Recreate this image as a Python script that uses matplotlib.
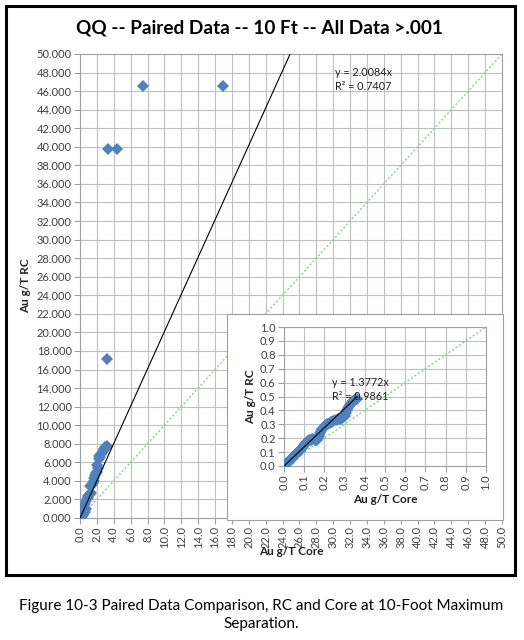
import matplotlib
matplotlib.use("Agg")
import matplotlib.pyplot as plt
from matplotlib.patches import Rectangle
import numpy as np

plt.rcParams['font.family'] = ['Lato', 'DejaVu Sans']

# ---------------- data ----------------
core_small = [0.000, 0.003, 0.006, 0.010, 0.013, 0.017, 0.020, 0.024, 0.028, 0.031,
              0.035, 0.039, 0.043, 0.047, 0.051, 0.055, 0.060, 0.064, 0.068, 0.072,
              0.077, 0.081, 0.086, 0.090, 0.095, 0.100, 0.104, 0.108, 0.112, 0.117,
              0.122, 0.128, 0.134, 0.140, 0.146, 0.152, 0.158, 0.164, 0.170, 0.175,
              0.180, 0.185, 0.190, 0.196, 0.202, 0.208, 0.214, 0.220, 0.226, 0.232,
              0.238, 0.245, 0.252, 0.260, 0.268, 0.275, 0.282, 0.288, 0.294, 0.300,
              0.305, 0.310, 0.315, 0.320, 0.326, 0.332, 0.338, 0.344, 0.350, 0.356,
              0.362]
rc_small = [0.000, 0.005, 0.008, 0.012, 0.020, 0.022, 0.030, 0.032, 0.040, 0.045,
            0.048, 0.055, 0.060, 0.065, 0.072, 0.078, 0.085, 0.090, 0.098, 0.105,
            0.110, 0.118, 0.125, 0.130, 0.140, 0.150, 0.160, 0.168, 0.175, 0.180,
            0.185, 0.188, 0.190, 0.192, 0.195, 0.190, 0.185, 0.188, 0.200, 0.215,
            0.240, 0.255, 0.268, 0.278, 0.285, 0.292, 0.300, 0.305, 0.310, 0.315,
            0.320, 0.325, 0.330, 0.332, 0.335, 0.338, 0.340, 0.345, 0.350, 0.360,
            0.380, 0.400, 0.415, 0.430, 0.440, 0.450, 0.460, 0.470, 0.478, 0.482,
            0.485]

core_large = [0.2, 0.3, 0.4, 0.5, 0.5, 0.6, 0.6, 0.7, 0.7, 0.8, 0.9, 1.0, 1.1, 1.2,
              1.3, 1.2, 1.4, 1.5, 1.6, 1.7, 1.8, 1.9, 2.0, 2.1, 2.0, 2.2, 2.3, 2.4,
              2.5, 2.6, 2.7, 2.8, 3.0, 3.1, 3.2,
              3.2, 3.3, 4.4, 7.5, 16.9]
rc_large = [0.3, 0.5, 0.6, 0.9, 1.2, 0.7, 1.5, 1.0, 1.8, 2.0, 2.2, 2.4, 2.5, 2.6,
            2.7, 3.4, 3.6, 3.8, 4.0, 4.3, 4.6, 4.8, 5.0, 5.4, 5.7, 6.4, 6.7, 6.6,
            6.9, 7.0, 7.2, 7.4, 7.6, 7.5, 7.8,
            17.1, 39.8, 39.8, 46.6, 46.6]

slope_all = 2.0084
r2_all = 0.7407
slope_small = 1.3772
r2_small = 0.9861

main_ticks = np.arange(0, 50.01, 2)
inset_ticks = np.arange(0, 1.001, 0.1)

title = "QQ -- Paired Data -- 10 Ft -- All Data >.001"
xlabel = "Au g/T Core"
ylabel = "Au g/T RC"
caption = "Figure 10-3 Paired Data Comparison, RC and Core at 10-Foot Maximum\nSeparation."

# ---------------- style ----------------
W, H = 524, 640
blue = '#4F81BD'
green = '#7ED67E'
grid_c = '#BFBFBF'
tick_c = '#404040'
tick_fs = 8.0
lab_fs = 8.5

fig = plt.figure(figsize=(W / 100, H / 100), dpi=100)
fig.patch.set_facecolor('white')

def fx(px):
    return px / W

def fy(py):
    return 1 - py / H

# outer frame
fig.add_artist(Rectangle((fx(6), fy(575)), fx(515) - fx(6), fy(6) - fy(575),
                         transform=fig.transFigure, fill=False, edgecolor='black',
                         linewidth=2.2, zorder=5))

ax = fig.add_axes([fx(80), fy(518), fx(502) - fx(80), fy(54) - fy(518)])
core_all = core_small + core_large
rc_all = rc_small + rc_large
ax.plot(core_all, rc_all, linestyle='none', marker='D', markersize=6,
        color=blue, markeredgewidth=0, zorder=3)
xl = np.array([0, 50])
ax.plot(xl, slope_all * xl, color='black', linewidth=0.8, zorder=4)
ax.plot(xl, xl, color=green, linewidth=1.0, linestyle=(0, (1.5, 1.5)), zorder=2)
ax.set_xlim(0, 50)
ax.set_ylim(0, 50)
ax.set_xticks(main_ticks)
ax.set_yticks(main_ticks)
ax.set_xticklabels([f"{t:.1f}" for t in main_ticks], rotation=90, fontsize=tick_fs, color=tick_c)
ax.set_yticklabels([f"{t:.3f}" for t in main_ticks], fontsize=tick_fs, color=tick_c)
ax.grid(True, color=grid_c, linewidth=0.8)
ax.set_axisbelow(True)
for s in ax.spines.values():
    s.set_color('#A0A0A0')
    s.set_linewidth(0.8)
ax.tick_params(direction='out', length=4, width=0.8, color='#A0A0A0', pad=2)
ax.set_xlabel(xlabel, fontsize=lab_fs, fontweight='bold', labelpad=-2, color='#222222')
ax.set_ylabel(ylabel, fontsize=lab_fs, fontweight='bold', labelpad=4, color='#222222')
ax.text(30.2, 48.05, f"y = {slope_all:.4f}x", fontsize=7.8, va='center', ha='left', color='#222222')
ax.text(30.2, 46.55, f"R² = {r2_all:.4f}", fontsize=7.8, va='center', ha='left', color='#222222')

fig.text(fx(260), fy(28), title, ha='center', va='center', fontsize=13.7, fontweight='bold')
fig.text(fx(261), fy(615), caption, ha='center', va='center', fontsize=11, linespacing=1.3)

# inset frame
box = Rectangle((fx(227), fy(520)), fx(503) - fx(227), fy(314) - fy(520),
                transform=fig.transFigure, facecolor='white', edgecolor='#A0A0A0',
                linewidth=0.8, zorder=1)
fig.add_artist(box)

ins = fig.add_axes([fx(284), fy(466), fx(486) - fx(284), fy(327) - fy(466)])
ins.set_zorder(2)
ins.plot(core_small, rc_small, linestyle='none', marker='D', markersize=6.5,
         color=blue, markeredgewidth=0, zorder=3)
xs = np.array([0, max(core_small)])
ins.plot(xs, slope_small * xs, color='black', linewidth=0.8, zorder=4)
ins.plot([0, 1], [0, 1], color=green, linewidth=1.0, linestyle=(0, (1.5, 1.5)), zorder=2)
ins.set_xlim(0, 1)
ins.set_ylim(0, 1)
ins.set_xticks(inset_ticks)
ins.set_yticks(inset_ticks)
ins.set_xticklabels([f"{t:.1f}" for t in inset_ticks], rotation=90, fontsize=tick_fs, color=tick_c)
ins.set_yticklabels([f"{t:.1f}" for t in inset_ticks], fontsize=tick_fs, color=tick_c)
ins.grid(True, color=grid_c, linewidth=0.8)
ins.set_axisbelow(True)
for s in ins.spines.values():
    s.set_color('#A0A0A0')
    s.set_linewidth(0.8)
ins.tick_params(direction='out', length=4, width=0.8, color='#A0A0A0', pad=2)
ins.set_xlabel(xlabel, fontsize=lab_fs, fontweight='bold', labelpad=3, color='#222222')
ins.set_ylabel(ylabel, fontsize=lab_fs, fontweight='bold', labelpad=3, color='#222222')
ins.text(0.24, 0.60, f"y = {slope_small:.4f}x", fontsize=7.8, va='center', ha='left', color='#222222')
ins.text(0.24, 0.50, f"R² = {r2_small:.4f}", fontsize=7.8, va='center', ha='left', color='#222222')

fig.savefig("out.png", dpi=100, facecolor='white')
